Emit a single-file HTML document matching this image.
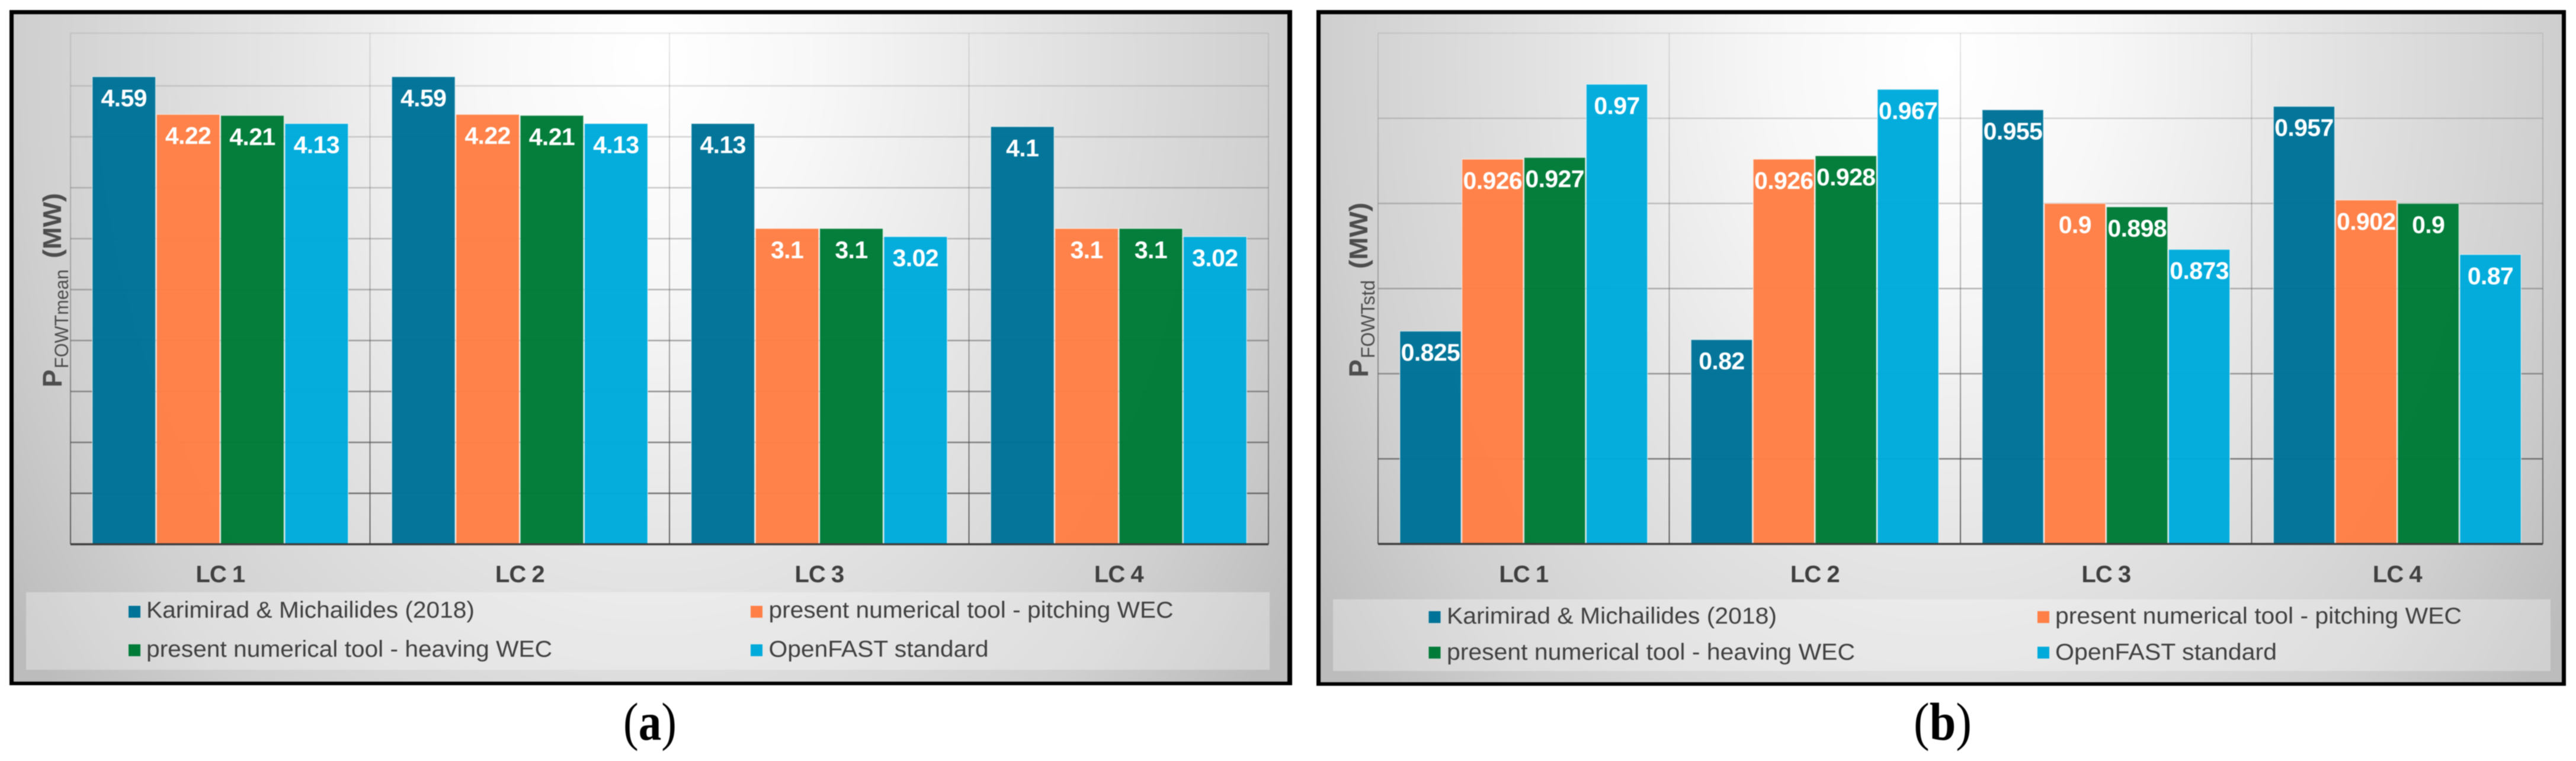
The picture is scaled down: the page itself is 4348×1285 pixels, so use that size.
<!DOCTYPE html>
<html lang="en">
<head>
<meta charset="utf-8">
<title>FOWT power comparison charts</title>
<style>
html,body{margin:0;padding:0;background:#fff;width:4348px;height:1285px;overflow:hidden}
svg{display:block;filter:blur(0.7px)}
text{font-family:"Liberation Sans",Arial,sans-serif}
.caption{font-family:"Liberation Serif","Times New Roman",serif;fill:#000}
</style>
</head>
<body>
<svg id="figure" xmlns="http://www.w3.org/2000/svg" width="4348" height="1285" viewBox="0 0 4348 1285">
  <defs>
    <radialGradient id="panelShadeA" gradientUnits="userSpaceOnUse" cx="0" cy="0" r="1" gradientTransform="translate(1098 100) scale(1290 1700)">
      <stop offset="0" stop-color="#ffffff"/>
      <stop offset="0.22" stop-color="#f7f7f7"/>
      <stop offset="0.5" stop-color="#e4e4e4"/>
      <stop offset="0.82" stop-color="#cfcfcf"/>
      <stop offset="1" stop-color="#bcbcbc"/>
    </radialGradient>
    <radialGradient id="panelShadeB" gradientUnits="userSpaceOnUse" cx="0" cy="0" r="1" gradientTransform="translate(3276 100) scale(1260 1700)">
      <stop offset="0" stop-color="#ffffff"/>
      <stop offset="0.22" stop-color="#f7f7f7"/>
      <stop offset="0.5" stop-color="#e4e4e4"/>
      <stop offset="0.82" stop-color="#cfcfcf"/>
      <stop offset="1" stop-color="#bcbcbc"/>
    </radialGradient>
    <linearGradient id="gridShade" gradientUnits="userSpaceOnUse" x1="0" y1="56" x2="0" y2="919">
      <stop offset="0" stop-color="#5a5a5a" stop-opacity="0.14"/>
      <stop offset="0.5" stop-color="#5a5a5a" stop-opacity="0.42"/>
      <stop offset="1" stop-color="#404040" stop-opacity="0.8"/>
    </linearGradient>
  </defs>

  <g>
    <rect x="16" y="17" width="2165" height="1140" fill="#000"/>
    <rect x="23" y="24" width="2150" height="1127" fill="url(#panelShadeA)"/>
    <g id="chartA"></g>
    <g fill="#4d4d4d">
      <text transform="translate(104 654) rotate(-90)" font-size="45" font-weight="700" textLength="30" lengthAdjust="spacingAndGlyphs">P</text>
      <text transform="translate(115 622) rotate(-90)" font-size="32" textLength="167" lengthAdjust="spacingAndGlyphs">FOWTmean</text>
      <text transform="translate(103 436) rotate(-90)" font-size="44" font-weight="700" textLength="110" lengthAdjust="spacingAndGlyphs">(MW)</text>
    </g>
  </g>
  <text class="caption" x="1052" y="1249" font-size="90" textLength="90" lengthAdjust="spacingAndGlyphs">(<tspan font-weight="700">a</tspan>)</text>

  <g>
    <rect x="2222" y="17" width="2109" height="1141" fill="#000"/>
    <rect x="2229" y="24" width="2095" height="1128" fill="url(#panelShadeB)"/>
    <g id="chartB"></g>
    <g fill="#4d4d4d">
      <text transform="translate(2309 637) rotate(-90)" font-size="45" font-weight="700" textLength="30" lengthAdjust="spacingAndGlyphs">P</text>
      <text transform="translate(2320 605) rotate(-90)" font-size="32" textLength="132" lengthAdjust="spacingAndGlyphs">FOWTstd</text>
      <text transform="translate(2308 454) rotate(-90)" font-size="44" font-weight="700" textLength="112" lengthAdjust="spacingAndGlyphs">(MW)</text>
    </g>
  </g>
  <text class="caption" x="3230" y="1249" font-size="90" textLength="98" lengthAdjust="spacingAndGlyphs">(<tspan font-weight="700">b</tspan>)</text>
</svg>

<script>
// ---- data ----
const categories = ['LC 1', 'LC 2', 'LC 3', 'LC 4'];
const seriesNames = ['Karimirad & Michailides (2018)', 'present numerical tool - pitching WEC', 'present numerical tool - heaving WEC', 'OpenFAST standard'];

const meanKarimirad = [4.59, 4.59, 4.13, 4.1];
const meanPitching = [4.22, 4.22, 3.1, 3.1];
const meanHeaving = [4.21, 4.21, 3.1, 3.1];
const meanOpenfast = [4.13, 4.13, 3.02, 3.02];
const meanTicks = [0.5, 1, 1.5, 2, 2.5, 3, 3.5, 4, 4.5];

const stdKarimirad = [0.825, 0.82, 0.955, 0.957];
const stdPitching = [0.926, 0.926, 0.9, 0.902];
const stdHeaving = [0.927, 0.928, 0.898, 0.9];
const stdOpenfast = [0.97, 0.967, 0.873, 0.87];
const stdTicks = [0.75, 0.8, 0.85, 0.9, 0.95];

// ---- styles ----
const seriesColors = ['#007398', '#ff7f46', '#007b38', '#00abdc'];
const seriesKeys = ['karimirad', 'pitching', 'heaving', 'openfast'];
const NS = 'http://www.w3.org/2000/svg';

function make(parent, tag, attrs, text) {
  const el = document.createElementNS(NS, tag);
  for (const k in attrs) el.setAttribute(k, attrs[k]);
  if (text !== undefined) el.textContent = text;
  parent.appendChild(el);
  return el;
}

function drawChart(root, values, ticks, cfg) {
  const yScale = v => cfg.bottom - (v - cfg.min) / (cfg.max - cfg.min) * (cfg.bottom - cfg.refTop);
  const groupWidth = (cfg.right - cfg.left) / categories.length;
  const groupX = i => cfg.left + i * groupWidth;
  const barWidth = (groupWidth - 2 * cfg.gap) / values.length;
  const barX = (i, s) => groupX(i) + cfg.gap + s * barWidth;

  // gridlines
  ticks.forEach(t => {
    const line = make(root, 'line', { x1: cfg.left, x2: cfg.right, y1: yScale(t), y2: yScale(t), stroke: 'url(#gridShade)', 'stroke-width': 2.5 });
    
    
  });
  const topLine = make(root, 'line', { x1: cfg.left, x2: cfg.right, y1: cfg.top, y2: cfg.top, stroke: '#5a5a5a', 'stroke-opacity': 0.1, 'stroke-width': 3 });
  
  

  // category separators
  for (let i = 0; i <= categories.length; i++) {
    const sep = make(root, 'rect', { x: groupX(i) - 1, y: cfg.top, width: 2, height: cfg.bottom - cfg.top, fill: 'url(#gridShade)' });
    
    
  }

  // bars and value labels
  values.forEach((series, s) => {
    series.forEach((v, i) => {
      const y = yScale(v);
      const bar = make(root, 'rect', {
        x: barX(i, s) + 0.75, y: y, width: barWidth - 1.5, height: cfg.bottom - y,
        fill: seriesColors[s], 'fill-opacity': 0.98,
        stroke: '#ffffff', 'stroke-opacity': 0.55, 'stroke-width': 1.5
      });
      
      
      const label = make(root, 'text', {
        x: barX(i, s) + barWidth / 2, y: y + 50, 'text-anchor': 'middle',
        fill: '#ffffff', 'font-size': 41, 'font-weight': 700, 'letter-spacing': -0.6
      }, String(v));
      
      
    });
  });

  // x axis
  const axis = make(root, 'line', { x1: cfg.left, x2: cfg.right, y1: cfg.bottom, y2: cfg.bottom, stroke: '#3d3d3d', 'stroke-width': 3.5 });
  
  
  categories.forEach((c, i) => {
    const tick = make(root, 'text', {
      x: groupX(i) + groupWidth / 2, y: 983, 'text-anchor': 'middle',
      fill: '#3f3f3f', 'font-size': 40, 'font-weight': 700, 'letter-spacing': -1
    }, c);
    
    
  });

  // legend
  const L = cfg.legend;
  const box = make(root, 'rect', { x: L.x, y: L.y, width: L.w, height: L.h, fill: '#ffffff', 'fill-opacity': 0.3 });
  
  
  seriesNames.forEach((name, s) => {
    const col = s % 2, row = Math.floor(s / 2);
    const swatch = make(root, 'rect', { x: L.swatchX[col], y: L.swatchY[row], width: L.swatchW, height: L.swatchH, fill: seriesColors[s] });
    
    
    const txt = make(root, 'text', {
      x: L.textX[col], y: L.baseY[row], fill: '#404040', 'font-size': 39,
      textLength: L.lengths[s], lengthAdjust: 'spacingAndGlyphs'
    }, name);
    
    
  });
}

drawChart(document.getElementById('chartA'),
  [meanKarimirad, meanPitching, meanHeaving, meanOpenfast], meanTicks,
  { left: 119, right: 2141, top: 56, bottom: 919, refTop: 59, min: 0, max: 5, gap: 36,
    legend: { x: 44, y: 1000, w: 2099, h: 131, swatchX: [217, 1267], swatchY: [1023, 1088], swatchW: 20, swatchH: 20,
      textX: [247, 1297.5], baseY: [1043, 1109], lengths: [554, 683, 685, 371] } });

drawChart(document.getElementById('chartB'),
  [stdKarimirad, stdPitching, stdHeaving, stdOpenfast], stdTicks,
  { left: 2326, right: 4292, top: 56, bottom: 918.5, refTop: 56, min: 0.7, max: 1.0, gap: 36,
    legend: { x: 2250, y: 1012, w: 2055, h: 121, swatchX: [2411.5, 3439], swatchY: [1032, 1092], swatchW: 20, swatchH: 20,
      textX: [2442, 3469], baseY: [1053, 1114], lengths: [557, 686, 689, 374] } });
</script>
</body>
</html>
